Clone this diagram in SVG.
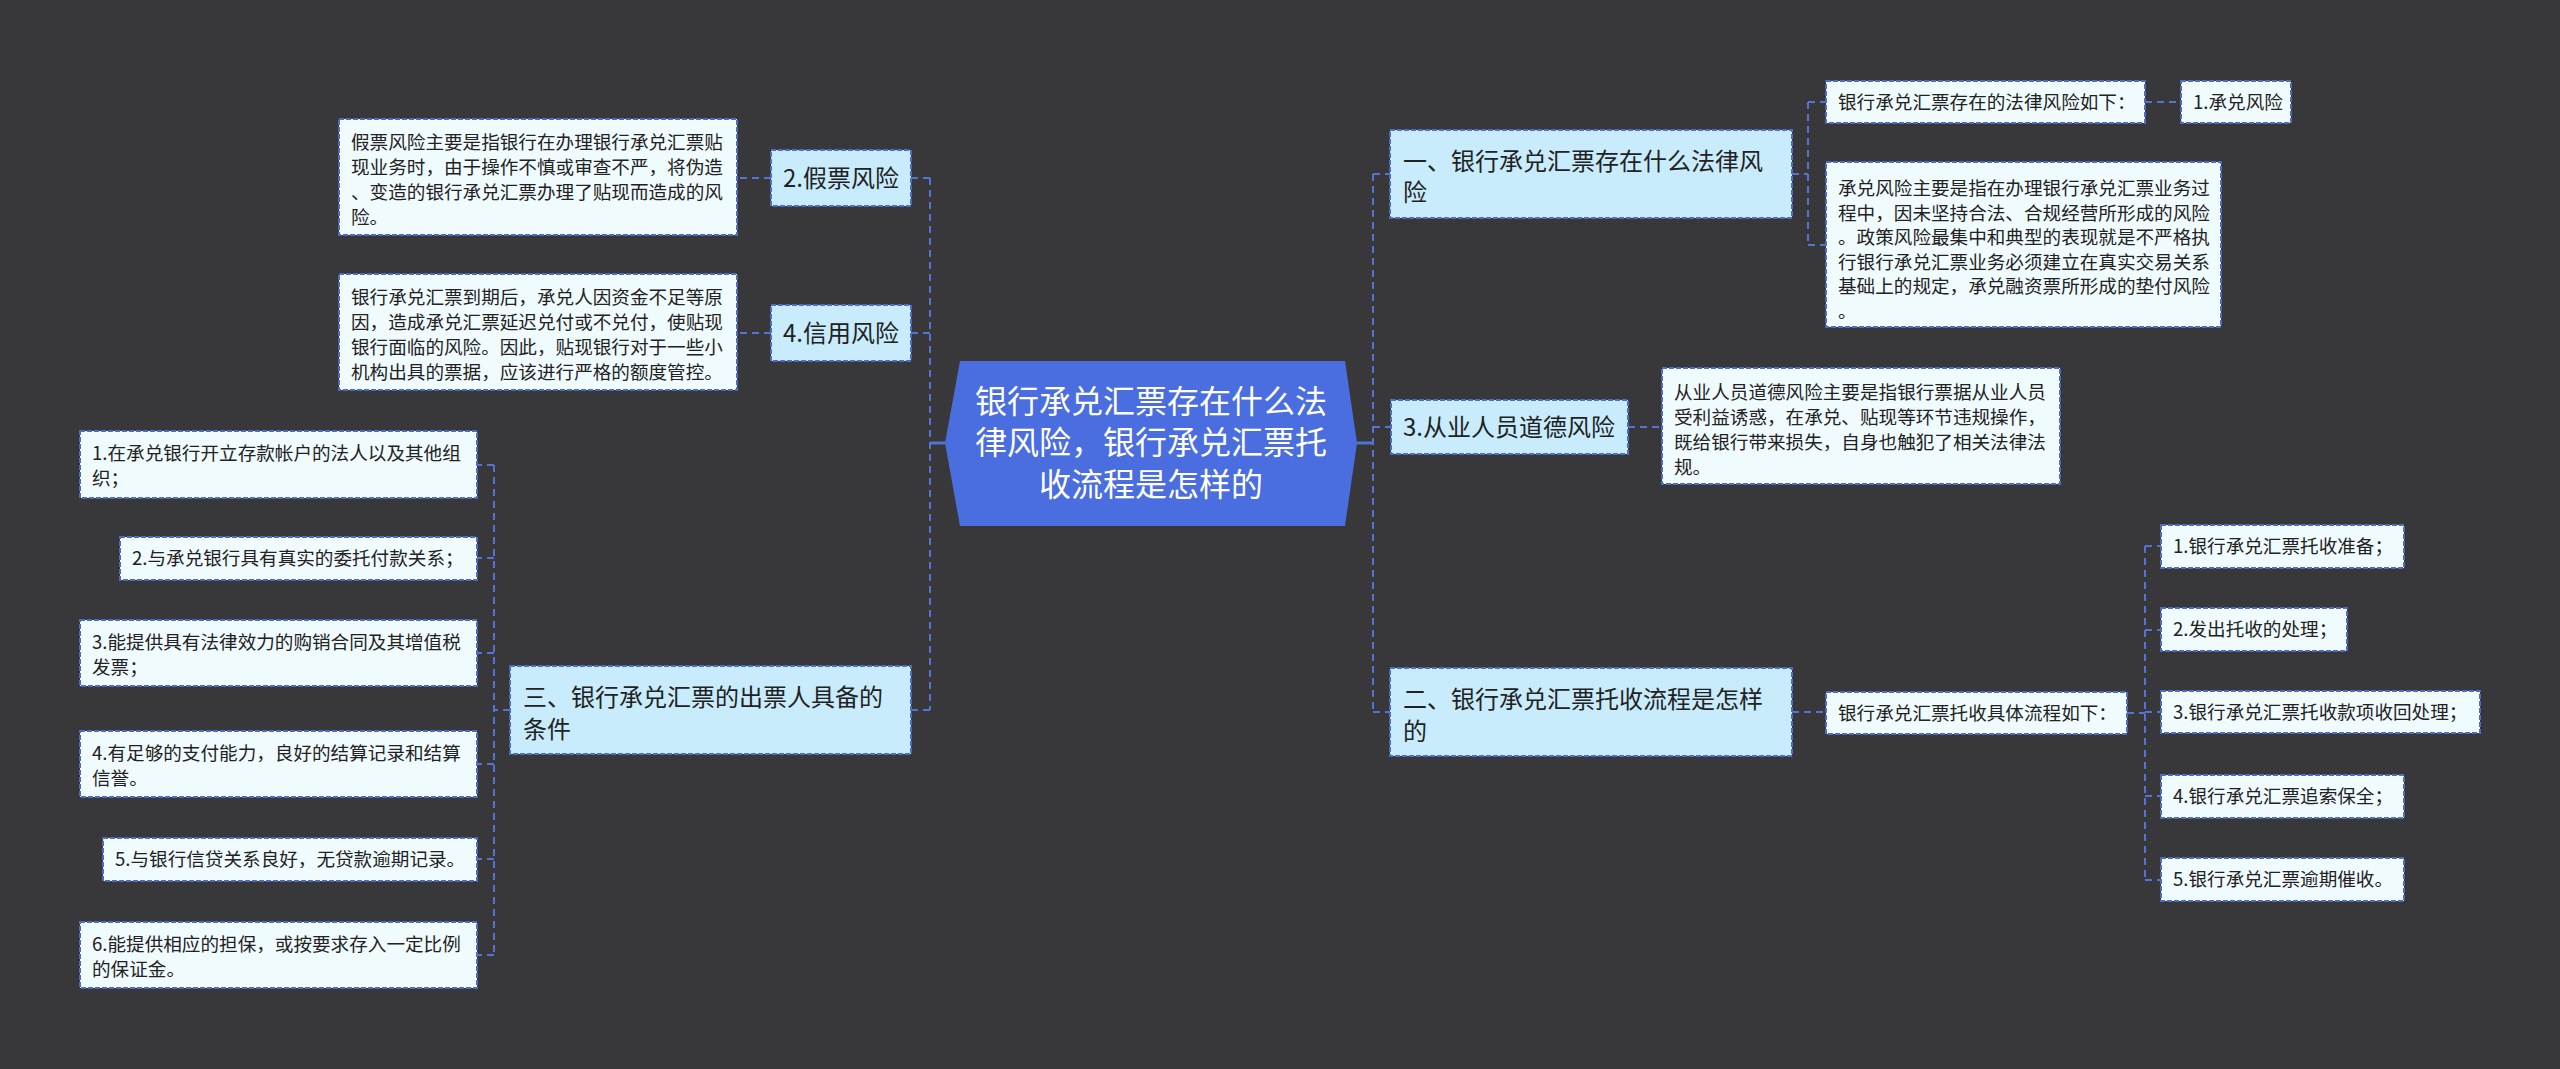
<svg xmlns="http://www.w3.org/2000/svg" width="2560" height="1069" viewBox="0 0 2560 1069">
<style>
.bg{fill:#38383a}
.leaf{fill:#f0fbfe;stroke:#4e6bc6;stroke-width:2;stroke-dasharray:5 2}
.main{fill:#c8ecfc;stroke:#4e6bc6;stroke-width:2;stroke-dasharray:5 2}
.t{font-family:"Noto Sans CJK SC","Noto Sans",sans-serif;fill:#222}
.ts{font-size:18.6px}
.tm{font-size:24px}
.tc{font-family:"Noto Sans CJK SC","Noto Sans",sans-serif;font-size:32px;fill:#ffffff;text-anchor:middle}
.c{fill:none;stroke:#5473d6;stroke-width:2;stroke-dasharray:7 5}
.cs{fill:none;stroke:#5473d6;stroke-width:3}
</style>
<rect class="bg" x="0" y="0" width="2560" height="1069"/>

<g id="connectors">
  <path class="cs" d="M1357,443 H1373 M945,443 H930"/>
  <path class="c" d="M1373,174 V712 M1373,174 H1390 M1373,427 H1391 M1373,712 H1390"/>
  <path class="c" d="M930,178 V710 M930,178 H911 M930,333 H911 M930,710 H911"/>
  <path class="c" d="M1792,174 H1808 M1808,102 V245 M1808,102 H1826 M1808,245 H1826"/>
  <path class="c" d="M2145,102 H2181"/>
  <path class="c" d="M1628,427 H1662"/>
  <path class="c" d="M1792,712 H1826"/>
  <path class="c" d="M2127,713 H2145 M2145,546 V880 M2145,546 H2161 M2145,630 H2161 M2145,712 H2161 M2145,796 H2161 M2145,880 H2161"/>
  <path class="c" d="M771,178 H737 M771,333 H737"/>
  <path class="c" d="M510,710 H494 M494,465 V955 M494,465 H477 M494,558 H477 M494,653 H477 M494,764 H477 M494,859 H477 M494,955 H477"/>
</g>

<g id="root">
  <polygon points="960,361 1345,361 1357,443 1345,526 960,526 945,443" fill="#4a6ee0"/>
  <text class="tc"><tspan x="1151" y="413">银行承兑汇票存在什么法</tspan><tspan x="1151" y="454">律风险，银行承兑汇票托</tspan><tspan x="1151" y="496">收流程是怎样的</tspan></text>
</g>

<g id="n-jiapiao-desc">
  <rect class="leaf" x="339" y="119" width="398" height="116"/>
  <text class="t ts"><tspan x="351" y="149">假票风险主要是指银行在办理银行承兑汇票贴</tspan><tspan x="351" y="174">现业务时，由于操作不慎或审查不严，将伪造</tspan><tspan x="351" y="199">、变造的银行承兑汇票办理了贴现而造成的风</tspan><tspan x="351" y="224">险。</tspan></text>
</g>
<g id="n-jiapiao">
  <rect class="main" x="771" y="150" width="140" height="56"/>
  <text class="t tm" x="783" y="187">2.假票风险</text>
</g>
<g id="n-xinyong-desc">
  <rect class="leaf" x="339" y="274" width="398" height="116"/>
  <text class="t ts"><tspan x="351" y="304">银行承兑汇票到期后，承兑人因资金不足等原</tspan><tspan x="351" y="329">因，造成承兑汇票延迟兑付或不兑付，使贴现</tspan><tspan x="351" y="354">银行面临的风险。因此，贴现银行对于一些小</tspan><tspan x="351" y="379">机构出具的票据，应该进行严格的额度管控。</tspan></text>
</g>
<g id="n-xinyong">
  <rect class="main" x="771" y="305" width="140" height="56"/>
  <text class="t tm" x="783" y="342">4.信用风险</text>
</g>
<g id="n-san">
  <rect class="main" x="510" y="666" width="401" height="88"/>
  <text class="t tm"><tspan x="523" y="706">三、银行承兑汇票的出票人具备的</tspan><tspan x="523" y="738">条件</tspan></text>
</g>
<g id="n-cond1">
  <rect class="leaf" x="80" y="431" width="397" height="67"/>
  <text class="t ts"><tspan x="92" y="460">1.在承兑银行开立存款帐户的法人以及其他组</tspan><tspan x="92" y="485">织；</tspan></text>
</g>
<g id="n-cond2">
  <rect class="leaf" x="120" y="537" width="357" height="43"/>
  <text class="t ts" x="132" y="565">2.与承兑银行具有真实的委托付款关系；</text>
</g>
<g id="n-cond3">
  <rect class="leaf" x="80" y="620" width="397" height="66"/>
  <text class="t ts"><tspan x="92" y="649">3.能提供具有法律效力的购销合同及其增值税</tspan><tspan x="92" y="674">发票；</tspan></text>
</g>
<g id="n-cond4">
  <rect class="leaf" x="80" y="731" width="397" height="66"/>
  <text class="t ts"><tspan x="92" y="760">4.有足够的支付能力，良好的结算记录和结算</tspan><tspan x="92" y="785">信誉。</tspan></text>
</g>
<g id="n-cond5">
  <rect class="leaf" x="103" y="838" width="374" height="43"/>
  <text class="t ts" x="115" y="866">5.与银行信贷关系良好，无贷款逾期记录。</text>
</g>
<g id="n-cond6">
  <rect class="leaf" x="80" y="922" width="397" height="66"/>
  <text class="t ts"><tspan x="92" y="951">6.能提供相应的担保，或按要求存入一定比例</tspan><tspan x="92" y="976">的保证金。</tspan></text>
</g>

<g id="n-yi">
  <rect class="main" x="1390" y="130" width="402" height="88"/>
  <text class="t tm"><tspan x="1403" y="170">一、银行承兑汇票存在什么法律风</tspan><tspan x="1403" y="201">险</tspan></text>
</g>
<g id="n-yi-list">
  <rect class="leaf" x="1826" y="81" width="319" height="42"/>
  <text class="t ts" x="1838" y="109">银行承兑汇票存在的法律风险如下：</text>
</g>
<g id="n-chengdui">
  <rect class="leaf" x="2181" y="81" width="110" height="42"/>
  <text class="t ts" x="2193" y="109">1.承兑风险</text>
</g>
<g id="n-chengdui-desc">
  <rect class="leaf" x="1826" y="162" width="395" height="165"/>
  <text class="t ts"><tspan x="1838" y="195">承兑风险主要是指在办理银行承兑汇票业务过</tspan><tspan x="1838" y="219.5">程中，因未坚持合法、合规经营所形成的风险</tspan><tspan x="1838" y="244">。政策风险最集中和典型的表现就是不严格执</tspan><tspan x="1838" y="268.5">行银行承兑汇票业务必须建立在真实交易关系</tspan><tspan x="1838" y="293">基础上的规定，承兑融资票所形成的垫付风险</tspan><tspan x="1838" y="317.5">。</tspan></text>
</g>
<g id="n-congye">
  <rect class="main" x="1391" y="400" width="237" height="54"/>
  <text class="t tm" x="1403" y="436">3.从业人员道德风险</text>
</g>
<g id="n-congye-desc">
  <rect class="leaf" x="1662" y="368" width="398" height="116"/>
  <text class="t ts"><tspan x="1674" y="399">从业人员道德风险主要是指银行票据从业人员</tspan><tspan x="1674" y="424">受利益诱惑，在承兑、贴现等环节违规操作，</tspan><tspan x="1674" y="449">既给银行带来损失，自身也触犯了相关法律法</tspan><tspan x="1674" y="474">规。</tspan></text>
</g>
<g id="n-er">
  <rect class="main" x="1390" y="668" width="402" height="88"/>
  <text class="t tm"><tspan x="1403" y="708">二、银行承兑汇票托收流程是怎样</tspan><tspan x="1403" y="740">的</tspan></text>
</g>
<g id="n-er-list">
  <rect class="leaf" x="1826" y="692" width="301" height="42"/>
  <text class="t ts" x="1838" y="720">银行承兑汇票托收具体流程如下：</text>
</g>
<g id="n-step1">
  <rect class="leaf" x="2161" y="525" width="243" height="43"/>
  <text class="t ts" x="2173" y="553">1.银行承兑汇票托收准备；</text>
</g>
<g id="n-step2">
  <rect class="leaf" x="2161" y="608" width="186" height="43"/>
  <text class="t ts" x="2173" y="636">2.发出托收的处理；</text>
</g>
<g id="n-step3">
  <rect class="leaf" x="2161" y="691" width="319" height="42"/>
  <text class="t ts" x="2173" y="719">3.银行承兑汇票托收款项收回处理；</text>
</g>
<g id="n-step4">
  <rect class="leaf" x="2161" y="775" width="243" height="43"/>
  <text class="t ts" x="2173" y="803">4.银行承兑汇票追索保全；</text>
</g>
<g id="n-step5">
  <rect class="leaf" x="2161" y="858" width="243" height="43"/>
  <text class="t ts" x="2173" y="886">5.银行承兑汇票逾期催收。</text>
</g>
</svg>
